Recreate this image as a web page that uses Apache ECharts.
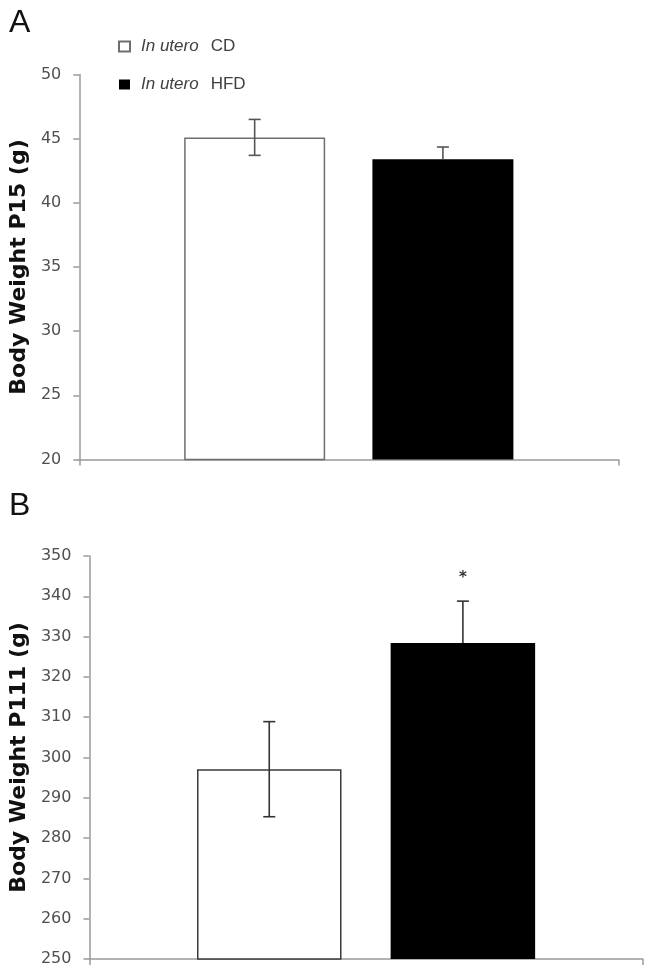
<!DOCTYPE html>
<html>
<head>
<meta charset="utf-8">
<script src="https://cdn.jsdelivr.net/npm/echarts@6/dist/echarts.min.js"></script>
<style>
  html, body { margin: 0; padding: 0; background: #fff; }
  #chart { width: 651px; height: 974px; }
</style>
</head>
<body>
<div id="chart"></div>
<script>
// ---- data ----
const categories = [''];
const groupNames = ['In utero CD', 'In utero HFD'];
// Panel A: body weight at P15 (g)
const meanP15 = [45.1, 43.4];
const errP15 = [1.4, 0.95];
// Panel B: body weight at P111 (g)
const meanP111 = [297.1, 328.4];
const errP111 = [11.8, 10.4];
const sigP111 = ['', '*'];
const axisTitles = ['Body Weight P15 (g)', 'Body Weight P111 (g)'];
const panelLetters = ['A', 'B'];

// ---- styling ----
const axisGray = '#9a9a9a';
const labelColor = '#505050';
const barWidthA = 141, barGapA = 0.335;
const barWidthB = 144.5, barGapB = 0.34;

function errorRenderer(barWidth, barGap, color) {
  const off = (barWidth + barWidth * barGap) / 2;
  return function (params, api) {
    const k = api.value(3);
    const mean = api.value(1);
    const err = api.value(2);
    const c = api.coord([0, mean]);
    const x = c[0] + (k === 0 ? -off : off);
    const yTop = api.coord([0, mean + err])[1];
    const yMid = c[1];
    const yBot = api.coord([0, mean - err])[1];
    const cap = 6;
    const st = { stroke: color, lineWidth: 1.6 };
    const children = [];
    const lowerY = k === 0 ? yBot : yMid;
    children.push({ type: 'line', shape: { x1: x, y1: yTop, x2: x, y2: lowerY }, style: st });
    children.push({ type: 'line', shape: { x1: x - cap, y1: yTop, x2: x + cap, y2: yTop }, style: st });
    if (k === 0) {
      children.push({ type: 'line', shape: { x1: x - cap, y1: yBot, x2: x + cap, y2: yBot }, style: st });
    }
    const sig = api.value(4);
    if (sig) {
      children.push({
        type: 'text',
        style: { x: x, y: yTop - 23, text: sig, fill: '#333', font: 'bold 15px "DejaVu Sans"', align: 'center', verticalAlign: 'middle' }
      });
    }
    return { type: 'group', children: children };
  };
}

const errDataA = meanP15.map((m, i) => [0, m, errP15[i], i, '']);
const errDataB = meanP111.map((m, i) => [0, m, errP111[i], i, sigP111[i]]);

function yAxisCfg(gridIndex, min, max, interval, name, nameGap) {
  return {
    type: 'value', gridIndex: gridIndex, min: min, max: max, interval: interval,
    name: name, nameLocation: 'middle', nameRotate: 90, nameGap: nameGap,
    nameTextStyle: { fontFamily: 'DejaVu Sans', fontWeight: 'bold', fontSize: 22, color: '#111' },
    axisLine: { show: true, lineStyle: { color: axisGray, width: 1.5 } },
    axisTick: { show: true, length: 6, lineStyle: { color: axisGray, width: 1.5 } },
    axisLabel: { margin: 18, color: labelColor, fontFamily: 'DejaVu Sans', fontSize: 16 },
    splitLine: { show: false }
  };
}
function xAxisCfg(gridIndex) {
  return {
    type: 'category', gridIndex: gridIndex, data: categories,
    axisLine: { show: true, lineStyle: { color: axisGray, width: 1.5 } },
    axisTick: { show: true, length: 6, lineStyle: { color: axisGray, width: 1.5 } },
    axisLabel: { show: false }
  };
}

const chart = echarts.init(document.getElementById('chart'), null, { renderer: 'canvas' });
chart.setOption({
  backgroundColor: '#fff',
  animation: false,
  grid: [
    { left: 77.3, top: 74.5, width: 541, height: 385 },
    { left: 87.3, top: 556, width: 555.4, height: 403 }
  ],
  legend: {
    data: groupNames,
    orient: 'vertical', left: 113, top: 33,
    itemWidth: 11, itemHeight: 10, itemGap: 21,
    icon: 'rect',
    formatter: function (name) {
      return '{i|In utero}{n|' + name.replace('In utero ', '') + '}';
    },
    textStyle: {
      color: '#404040', fontSize: 17, fontFamily: 'Liberation Sans',
      rich: {
        i: { fontStyle: 'italic', fontSize: 17, fontFamily: 'Liberation Sans', color: '#404040', padding: [0, 0, 0, 6] },
        n: { fontSize: 17, fontFamily: 'Liberation Sans', color: '#404040', padding: [0, 0, 0, 12] }
      }
    }
  },
  graphic: [
    { type: 'text', left: 9, top: 7, style: { text: panelLetters[0], font: '32px "Liberation Sans"', fill: '#111' } },
    { type: 'text', left: 9, top: 490, style: { text: panelLetters[1], font: '32px "Liberation Sans"', fill: '#111' } }
  ],
  xAxis: [xAxisCfg(0), xAxisCfg(1)],
  yAxis: [
    yAxisCfg(0, 20, 50, 5, axisTitles[0], 44),
    yAxisCfg(1, 250, 350, 10, axisTitles[1], 54)
  ],
  series: [
    { name: groupNames[0], type: 'bar', xAxisIndex: 0, yAxisIndex: 0, data: [meanP15[0]],
      barWidth: barWidthA, barGap: (barGapA * 100) + '%',
      itemStyle: { color: '#fff', borderColor: '#6e6e6e', borderWidth: 1.5 } },
    { name: groupNames[1], type: 'bar', xAxisIndex: 0, yAxisIndex: 0, data: [meanP15[1]],
      barWidth: barWidthA, barGap: (barGapA * 100) + '%',
      itemStyle: { color: '#000', borderColor: '#000', borderWidth: 0 } },
    { type: 'custom', xAxisIndex: 0, yAxisIndex: 0, data: errDataA, z: 5,
      renderItem: errorRenderer(barWidthA, barGapA, '#555'), silent: true },
    { name: groupNames[0], type: 'bar', xAxisIndex: 1, yAxisIndex: 1, data: [meanP111[0]],
      barWidth: barWidthB, barGap: (barGapB * 100) + '%',
      itemStyle: { color: '#fff', borderColor: '#3a3a3a', borderWidth: 1.5 } },
    { name: groupNames[1], type: 'bar', xAxisIndex: 1, yAxisIndex: 1, data: [meanP111[1]],
      barWidth: barWidthB, barGap: (barGapB * 100) + '%',
      itemStyle: { color: '#000', borderColor: '#000', borderWidth: 0 } },
    { type: 'custom', xAxisIndex: 1, yAxisIndex: 1, data: errDataB, z: 5,
      renderItem: errorRenderer(barWidthB, barGapB, '#333'), silent: true }
  ]
});
</script>
</body>
</html>
